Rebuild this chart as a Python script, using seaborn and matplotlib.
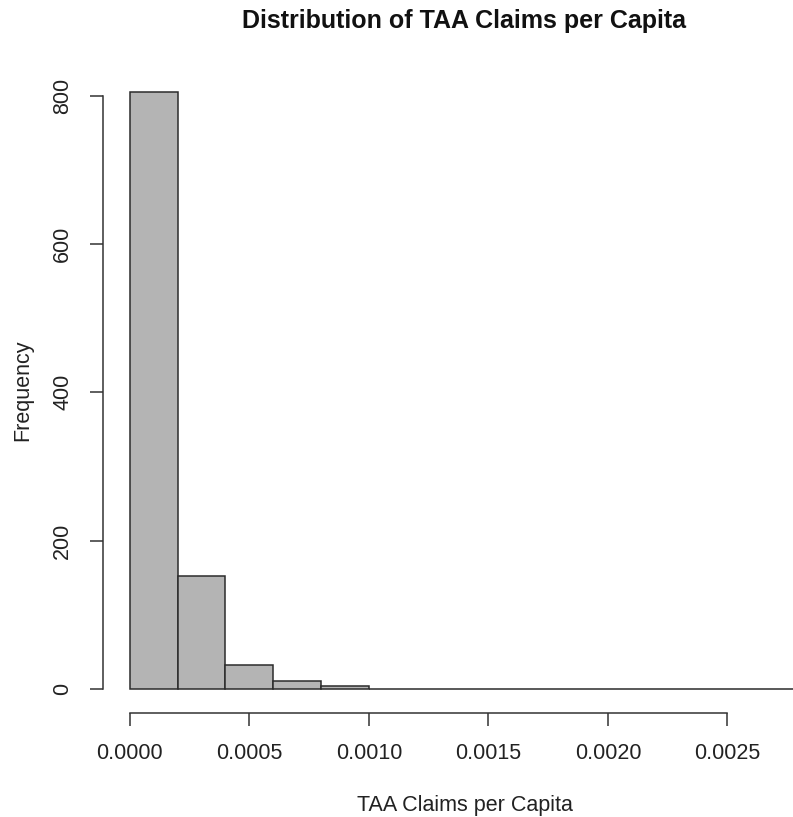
import numpy as np
import pandas as pd
import matplotlib
matplotlib.use("Agg")
import matplotlib.pyplot as plt
import seaborn as sns

# ---- data ----
bin_edges = [0.0000, 0.0002, 0.0004, 0.0006, 0.0008, 0.0010, 0.0012, 0.0014,
             0.0016, 0.0018, 0.0020, 0.0022, 0.0024, 0.0026, 0.0028]
counts = [805, 153, 32, 11, 4, 0, 0, 0, 0, 0, 0, 0, 0, 0]
x_ticks = [0.0000, 0.0005, 0.0010, 0.0015, 0.0020, 0.0025]
x_tick_labels = ["0.0000", "0.0005", "0.0010", "0.0015", "0.0020", "0.0025"]
y_ticks = [0, 200, 400, 600, 800]
y_tick_labels = ["0", "200", "400", "600", "800"]
title = "Distribution of TAA Claims per Capita"
x_label = "TAA Claims per Capita"
y_label = "Frequency"

df = pd.DataFrame({"claims": [(bin_edges[i] + bin_edges[i + 1]) / 2 for i in range(len(counts))],
                   "n": counts})

sns.set_theme(style="white")
plt.rcParams["font.family"] = ["Liberation Sans", "DejaVu Sans"]

W, H = 793, 817
fig = plt.figure(figsize=(W / 100, H / 100), dpi=100)
L, R, T, B = 103, 826, 68, 713
ax = fig.add_axes([L / W, (H - B) / H, (R - L) / W, (B - T) / H])

sns.histplot(data=df, x="claims", weights="n", bins=bin_edges, ax=ax,
             color="#B4B4B4", alpha=1.0, edgecolor="#2b2b2b", linewidth=1.1)

xmin, xmax = bin_edges[0], bin_edges[-1]
ext = (xmax - xmin) * 0.04
ax.set_xlim(xmin - ext, xmax + ext)
ymax = max(counts)
ax.set_ylim(-ymax * 0.04, ymax * 1.04)

for s in ["top", "right"]:
    ax.spines[s].set_visible(False)
for s in ["left", "bottom"]:
    ax.spines[s].set_color("#333333")
    ax.spines[s].set_linewidth(1.1)
ax.spines["bottom"].set_bounds(x_ticks[0], x_ticks[-1])
ax.spines["left"].set_bounds(y_ticks[0], y_ticks[-1])

ax.set_xticks(x_ticks)
ax.set_xticklabels(x_tick_labels)
ax.set_yticks(y_ticks)
ax.set_yticklabels(y_tick_labels, rotation=90, va="center")
ax.tick_params(axis="both", direction="out", length=9.4, width=1.1,
               color="#333333", labelsize=15.5, labelcolor="#222222", pad=12,
               bottom=True, left=True)

ax.set_xlabel(x_label, fontsize=15.5, color="#222222", va="center")
ax.xaxis.set_label_coords(0.5, (B - 805) / (B - T))
ax.set_ylabel(y_label, fontsize=15.5, color="#222222", va="center", ha="center")
ax.yaxis.set_label_coords((23 - L) / (R - L), 0.5)

fig.text(((L + R) / 2) / W, 1 - 21 / H, title, ha="center", va="center",
         fontsize=18, fontweight="bold", color="#111111")

fig.savefig("out.png", dpi=100)
